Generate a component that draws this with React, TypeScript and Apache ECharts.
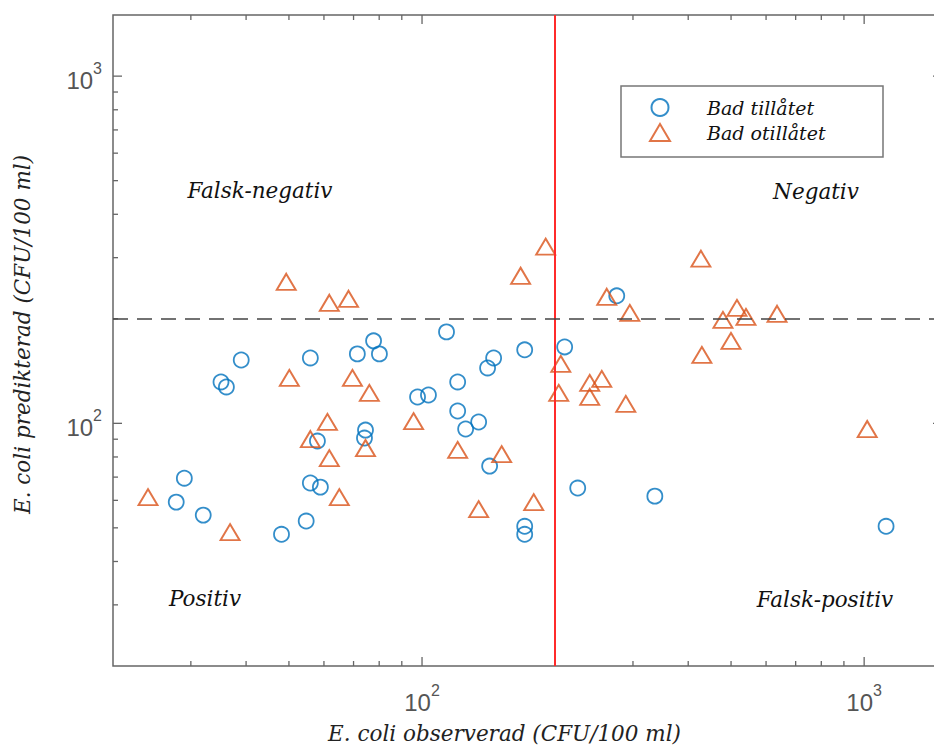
import React, { useEffect, useRef } from "react";
import * as echarts from "echarts";

const seriesNames = ["Bad tillåtet", "Bad otillåtet"];

const tillatetX = [27.8, 29.0, 32.0, 35.1, 36.1, 39.0, 48.1, 54.7, 55.9, 55.9, 58.9, 58.0, 71.4, 77.7, 80.1, 74.5, 74.1, 97.7, 103.4, 113.6, 120.4, 120.4, 134.3, 125.5, 140.7, 145.2, 142.2, 170.7, 170.7, 170.7, 210.2, 225.0, 275.7, 336.2, 1121];
const tillatetY = [59.3, 69.5, 54.4, 131.6, 127.3, 152.2, 47.9, 52.3, 154.3, 67.3, 65.5, 88.9, 158.5, 172.8, 158.5, 95.6, 90.7, 119.1, 120.7, 183.4, 131.6, 108.5, 100.9, 96.3, 144.4, 154.3, 75.3, 162.8, 50.5, 47.9, 166.0, 65.1, 232.9, 61.7, 50.5];

const otillatetX = [24.0, 36.8, 49.3, 50.1, 55.9, 61.7, 68.2, 61.1, 61.7, 65.0, 69.6, 76.0, 74.5, 95.7, 120.4, 134.3, 151.4, 167.1, 178.9, 190.4, 206.0, 203.8, 239.5, 255.0, 239.5, 289.0, 261.7, 295.1, 427.3, 429.5, 479.3, 515.6, 540.4, 499.8, 635.3, 1016];
const otillatetY = [61.3, 48.6, 255.7, 135.1, 90.1, 222.4, 228.4, 100.9, 79.4, 61.3, 135.1, 122.3, 84.9, 101.5, 83.8, 56.6, 81.5, 266.1, 59.3, 322.6, 148.3, 122.3, 130.7, 134.2, 119.1, 113.7, 231.4, 208.1, 297.9, 157.4, 198.6, 215.1, 202.6, 172.8, 206.8, 96.3];

const axisMin = 20;
const axisMax = 1500;
const majorTickValues = [100, 1000];
const minorTickValues = [30, 40, 50, 60, 70, 80, 90, 200, 300, 400, 500, 600, 700, 800, 900];
const thresholdX = 200;
const thresholdY = 200;
const quadrantLabels = ["Falsk-negativ", "Negativ", "Positiv", "Falsk-positiv"];
const xTitle = "E. coli observerad (CFU/100 ml)";
const yTitle = "E. coli predikterad (CFU/100 ml)";

const SERIF = "DejaVu Serif";
const SANS = "Liberation Sans";
const AXIS_COLOR = "#666";
const BLUE = "#0072BD";
const ORANGE = "#D95319";

const tickFormatter = (v: number) => {
  const l = Math.log10(v);
  const e = Math.round(l);
  if (Math.abs(l - e) > 1e-6) return "";
  return "{b|10}{s|" + e + "}";
};
const tickRich = {
  b: { fontSize: 24, fontFamily: SANS, color: "#555", padding: [8, 0, 0, 0] },
  s: { fontSize: 16, fontFamily: SANS, color: "#555", verticalAlign: "top" },
};

export default function App() {
  const ref = useRef<HTMLDivElement>(null);
  useEffect(() => {
    if (!ref.current) return;
    const chart = echarts.init(ref.current, null, { renderer: "svg" });
    const allTicks = [...minorTickValues, ...majorTickValues];
    const tickLine = (x1: number, y1: number, x2: number, y2: number) => ({
      type: "line",
      shape: { x1, y1, x2, y2 },
      style: { stroke: AXIS_COLOR, lineWidth: 1.3 },
    });
    const option: any = {
      animation: false,
      backgroundColor: "#fff",
      grid: {
        left: 113,
        top: 15,
        width: 829,
        height: 651,
        show: true,
        borderColor: AXIS_COLOR,
        borderWidth: 1.5,
        backgroundColor: "transparent",
        containLabel: false,
        outerBoundsMode: "none",
      },
      xAxis: {
        type: "log",
        logBase: 10,
        min: axisMin,
        max: axisMax,
        axisLine: { show: false },
        axisTick: { show: false },
        splitLine: { show: false },
        minorTick: { show: false },
        axisLabel: { formatter: tickFormatter, rich: tickRich, margin: 16 },
        name: xTitle,
        nameLocation: "middle",
        nameGap: 55,
        nameTextStyle: {
          fontFamily: SERIF,
          fontStyle: "italic",
          fontSize: 21.5,
          lineHeight: 24,
          color: "#222",
          padding: [0, 46, 0, 0],
        },
      },
      yAxis: {
        type: "log",
        logBase: 10,
        min: axisMin,
        max: axisMax,
        axisLine: { show: false },
        axisTick: { show: false },
        splitLine: { show: false },
        minorTick: { show: false },
        axisLabel: { formatter: tickFormatter, rich: tickRich, margin: 11 },
        name: yTitle,
        nameLocation: "middle",
        nameGap: 80,
        nameTextStyle: {
          fontFamily: SERIF,
          fontStyle: "italic",
          fontSize: 21.5,
          color: "#222",
          padding: [0, 0, 0, 12],
        },
      },
      legend: {
        orient: "vertical",
        left: 649,
        top: 98,
        padding: 0,
        itemWidth: 20,
        itemHeight: 17,
        itemGap: 6,
        data: [
          { name: seriesNames[0], icon: "circle" },
          { name: seriesNames[1], icon: "triangle" },
        ],
        textStyle: {
          fontFamily: SERIF,
          fontStyle: "italic",
          fontSize: 19,
          lineHeight: 17,
          color: "#111",
          padding: [0, 0, 0, 32],
        },
      },
      graphic: [
        {
          type: "rect",
          shape: { x: 621, y: 86, width: 262, height: 71 },
          style: { fill: "#fff", stroke: "#777", lineWidth: 1.5 },
          z: 1,
        },
        ...quadrantLabels.map((t, i) => ({
          type: "text",
          x: [260, 816, 205, 825][i],
          y: [190, 191, 598, 599][i],
          style: {
            text: t,
            fontFamily: SERIF,
            fontStyle: "italic",
            fontSize: 21.5,
            fill: "#111",
            align: "center",
            verticalAlign: "middle",
          },
        })),
      ],
      series: [
        {
          name: seriesNames[0],
          type: "scatter",
          symbol: "circle",
          symbolSize: 15,
          itemStyle: { color: "rgba(0,0,0,0)", borderColor: BLUE, borderWidth: 1.8 },
          data: tillatetX.map((x, i) => [x, tillatetY[i]]),
          z: 3,
          markLine: {
            silent: true,
            symbol: "none",
            label: { show: false },
            data: [
              { xAxis: thresholdX, lineStyle: { color: "#ff2b2b", width: 2, type: "solid" } },
              { yAxis: thresholdY, lineStyle: { color: "#444", width: 1.5, type: [15, 9] } },
            ],
          },
        },
        {
          name: seriesNames[1],
          type: "scatter",
          symbol: "triangle",
          symbolSize: [19, 16],
          itemStyle: { color: "rgba(0,0,0,0)", borderColor: ORANGE, borderWidth: 1.9 },
          data: otillatetX.map((x, i) => [x, otillatetY[i]]),
          z: 3,
        },
        {
          type: "custom",
          silent: true,
          clip: false,
          data: allTicks.map((v) => [v, axisMin]),
          renderItem: (params: any, api: any) => {
            const v = api.value(0);
            const len = majorTickValues.includes(v) ? 9 : 5;
            const b = api.coord([v, axisMin]);
            const t = api.coord([v, axisMax]);
            return {
              type: "group",
              children: [tickLine(b[0], b[1], b[0], b[1] - len), tickLine(t[0], t[1], t[0], t[1] + len)],
            };
          },
        },
        {
          type: "custom",
          silent: true,
          clip: false,
          data: allTicks.map((v) => [axisMin, v]),
          renderItem: (params: any, api: any) => {
            const v = api.value(1);
            const len = majorTickValues.includes(v) ? 9 : 5;
            const l = api.coord([axisMin, v]);
            const r = api.coord([axisMax, v]);
            return {
              type: "group",
              children: [tickLine(l[0], l[1], l[0] + len, l[1]), tickLine(r[0], r[1], r[0] - len, r[1])],
            };
          },
        },
      ],
    };
    chart.setOption(option);
    return () => chart.dispose();
  }, []);
  return (
    <div style={{ position: "fixed", left: 0, top: 0, width: 934, height: 746, overflow: "hidden", background: "#fff" }}>
      <div ref={ref} style={{ width: 960, height: 746 }} />
    </div>
  );
}
